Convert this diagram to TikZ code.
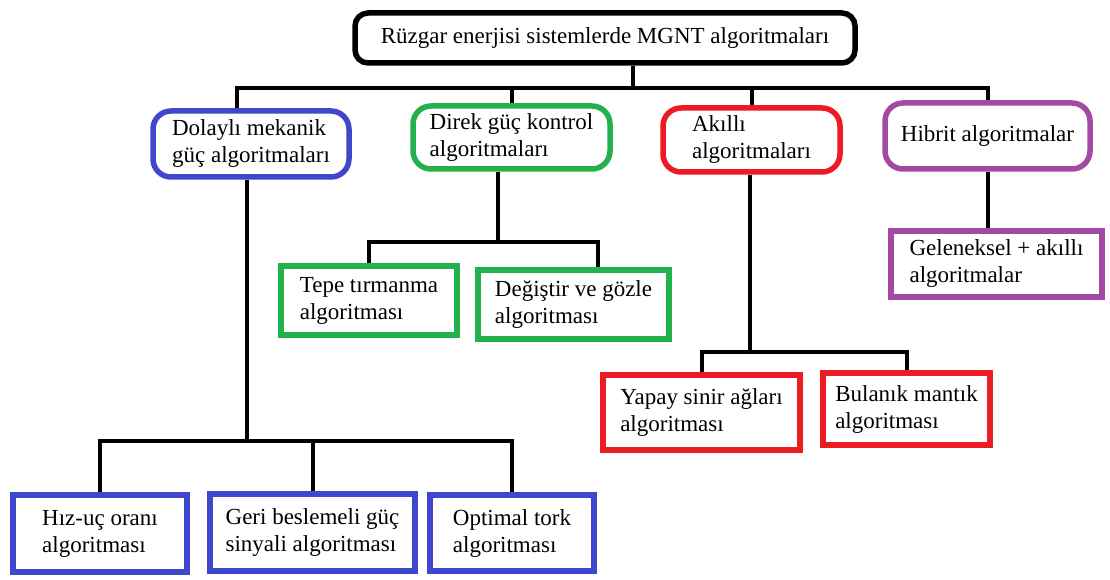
\documentclass[tikz,border=0pt]{standalone}
\usepackage{fontspec}
\setmainfont{Liberation Serif}
\usepackage{xcolor}
\usetikzlibrary{positioning}
\definecolor{dolblue}{RGB}{63, 72, 204}
\definecolor{dirgreen}{RGB}{34, 177, 76}
\definecolor{aklred}{RGB}{237, 28, 36}
\definecolor{hibpurple}{RGB}{163, 73, 164}

\begin{document}
\begin{tikzpicture}[x=1pt, y=-1pt,
    box/.style={draw, line width=5.5pt, align=left, inner sep=0pt, font=\fontsize{23}{27}\selectfont},
    conn/.style={line width=4pt, black}]

    \useasboundingbox (0,0) rectangle (1110,580);

    % Root
    \node[box, rounded corners=13pt, minimum width=500pt, minimum height=50pt] at (605,38) (top) {Rüzgar enerjisi sistemlerde MGNT algoritmaları};

    % Main groups
    \node[box, dolblue, text=black, rounded corners=18pt, minimum width=196pt, minimum height=66pt] at (251,144) (dol) {Dolaylı mekanik\\güç algoritmaları};
    \node[box, dirgreen, text=black, rounded corners=18pt, minimum width=197pt, minimum height=63pt] at (511.5,137.5) (dir) {Direk güç kontrol\\algoritmaları};
    \node[box, aklred, text=black, rounded corners=18pt, minimum width=177pt, minimum height=64pt] at (751.5,140) (akl) {Akıllı\\algoritmaları};
    \node[box, hibpurple, text=black, rounded corners=18pt, minimum width=205pt, minimum height=66pt] at (987.5,136) (hib) {Hibrit algoritmalar};

    % Direct power control
    \node[box, dirgreen, text=black, minimum width=176pt, minimum height=69pt] at (369,300.5) (tepe) {Tepe tırmanma\\algoritması};
    \node[box, dirgreen, text=black, minimum width=191pt, minimum height=69pt] at (573.5,304.5) (deg) {Değiştir ve gözle\\algoritması};

    % Intelligent
    \node[box, aklred, text=black, minimum width=197pt, minimum height=75pt] at (701.5,412.5) (yap) {Yapay sinir ağları\\algoritması};
    \node[box, aklred, text=black, minimum width=167pt, minimum height=72pt] at (906.5,409) (bul) {Bulanık mantık\\algoritması};

    % Hybrid
    \node[box, hibpurple, text=black, minimum width=211pt, minimum height=66pt] at (996.5,264) (gel) {Geleneksel + akıllı\\algoritmalar};

    % Indirect mechanical power
    \node[box, dolblue, text=black, minimum width=174pt, minimum height=77pt] at (100,533.5) (hiz) {Hız-uç oranı\\algoritması};
    \node[box, dolblue, text=black, minimum width=205pt, minimum height=77pt] at (312.5,532.5) (geri) {Geri beslemeli güç\\sinyali algoritması};
    \node[box, dolblue, text=black, minimum width=164pt, minimum height=76pt] at (512,533) (opt) {Optimal tork\\algoritması};

    % Bus points
    \coordinate (bus1) at (633,88);
    \coordinate (bus2) at (498,242);
    \coordinate (bus3) at (750,352);
    \coordinate (bus4) at (247,441);

    % Root -> groups
    \draw[conn] (top.south -| bus1) -- (bus1);
    \draw[conn] ([xshift=-14pt]dol.north) |- (hib.north |- bus1) -- (hib.north);
    \foreach \g in {dir, akl} {
        \draw[conn] (\g.north) -- (\g.north |- bus1);
    }

    % Direk -> children
    \draw[conn] (dir.south -| bus2) -- (bus2);
    \draw[conn] (tepe.north) |- ([xshift=24pt]deg.north |- bus2) -- ([xshift=24pt]deg.north);

    % Akilli -> children
    \draw[conn] (akl.south -| bus3) -- (bus3);
    \draw[conn] (yap.north) |- (bul.north |- bus3) -- (bul.north);

    % Hibrit -> child
    \draw[conn] (hib.south) -- (hib.south |- gel.north);

    % Dolayli -> children
    \draw[conn] (dol.south -| bus4) -- (bus4);
    \draw[conn] (hiz.north) |- (opt.north |- bus4) -- (opt.north);
    \draw[conn] (geri.north) -- (geri.north |- bus4);

\end{tikzpicture}
\end{document}
